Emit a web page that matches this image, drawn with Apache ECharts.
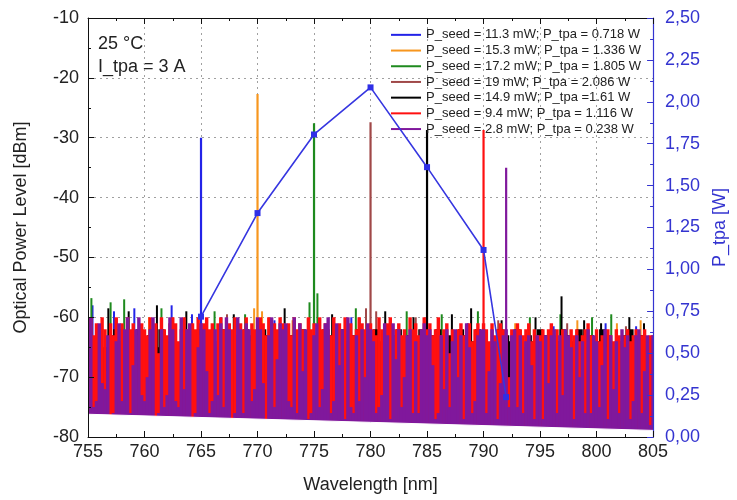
<!DOCTYPE html>
<html><head><meta charset="utf-8">
<script src="https://cdn.jsdelivr.net/npm/echarts@6/dist/echarts.min.js"></script>
<style>html,body{margin:0;padding:0;background:#fff}#c{width:737px;height:500px}</style>
</head><body><div id="c"></div>
<script>
// ---------- data ----------
const seriesNames = [
  'P_seed = 11.3 mW; P_tpa = 0.718 W',
  'P_seed = 15.3 mW; P_tpa = 1.336 W',
  'P_seed = 17.2 mW; P_tpa = 1.805 W',
  'P_seed = 19 mW; P_tpa = 2.086 W',
  'P_seed = 14.9 mW; P_tpa =1.61 W',
  'P_seed = 9.4 mW; P_tpa = 1.116 W',
  'P_seed = 2.8 mW; P_tpa = 0.238 W'
];
const seriesColors = ['#2323E8', '#F7961E', '#1E8A1E', '#A04848', '#000000', '#FF1010', '#80189C'];
const xTicks = [755, 760, 765, 770, 775, 780, 785, 790, 795, 800, 805];
const leftTicks = [-80, -70, -60, -50, -40, -30, -20, -10];
const rightTickLabels = ['0,00','0,25','0,50','0,75','1,00','1,25','1,50','1,75','2,00','2,25','2,50'];
const xGrid = [760, 765, 770, 775, 780, 785, 790, 795, 800];
const yGrid = [-70, -60, -50, -40, -30, -20];

// laser peaks (wavelength nm, peak level dBm)
const peakWl  = [765, 770, 775, 780, 785, 790, 792];
const peakTop = [-30, -22.7, -27.6, -27.4, -28.7, -28.7, -35];

// P_tpa vs wavelength (right axis)
const ptpaWl = [765, 770, 775, 780, 785, 790, 792];
const ptpaW  = [0.718, 1.336, 1.805, 2.086, 1.61, 1.116, 0.238];

// lower edge of the noise floor
const floorWl = [755, 805];
const floorDb = [-76.2, -78.9];

// noise sampling
const noiseStart = 755;
const fineStep = 0.25;
const coarseStep = 0.5;

const purpleNoise = [
 -61,-60,-75,-74,-61,-71,-72,-63,-77,-76,
 -64,-61,-74,-62,-60,-76,-68,-62,-60,-73,
 -74,-70,-62,-60,-77,-76,-62,-75,-73,-60,
 -62,-74,-75,-60,-72,-62,-61,-77,-76,-65,
 -61,-62,-69,-76,-74,-62,-73,-61,-75,-60,
 -62,-77,-76,-60,-62,-76,-61,-62,-74,-72,
 -60,-62,-71,-77,-63,-60,-75,-67,-61,-62,
 -61,-74,-75,-60,-76,-61,-69,-62,-77,-76,
 -63,-61,-75,-72,-61,-60,-76,-74,-61,-68,
 -62,-77,-60,-75,-76,-63,-74,-62,-70,-61,
 -62,-64,-76,-75,-73,-61,-63,-77,-61,-67,
 -62,-75,-70,-63,-62,-76,-64,-76,-62,-61,
 -63,-62,-68,-77,-76,-63,-72,-62,-75,-64,
 -62,-70,-63,-77,-61,-65,-76,-74,-63,-62,
 -62,-76,-69,-62,-64,-77,-71,-63,-62,-75,
 -63,-62,-75,-63,-76,-64,-63,-68,-77,-63,
 -64,-77,-63,-71,-63,-62,-76,-63,-73,-62,
 -63,-65,-77,-63,-70,-64,-76,-62,-76,-63,
 -64,-75,-68,-62,-77,-63,-72,-64,-76,-62,
 -65,-63,-77,-74,-63,-62,-76,-69,-63,-78,
 -63
];
const redNoise = [
 -62,-60,-63,-61,-64,-60,-62,-69,-61,-63,
 -60,-62,-61,-65,-60,-62,-61,-63,-72,-61,
 -62,-63,-60,-62,-61,-66,-60,-62,-63,-61,
 -60,-61,-64,-62,-60,-62,-70,-61,-62,-60,
 -63,-61,-60,-62,-61,-64,-61,-60,-62,-71,
 -61,-62,-60,-63,-61,-62,-60,-64,-61,-62,
 -62,-60,-61,-63,-60,-68,-61,-62,-60,-61,
 -62,-61,-63,-60,-62,-61,-62,-65,-60,-62,
 -61,-63,-60,-62,-61,-62,-63,-60,-70,-61,
 -63,-60,-62,-61,-63,-62,-60,-61,-62,-63,
 -61,-62,-63,-60,-62,-64,-61,-60,-63,-62,
 -61,-63,-62,-72,-60,-62,-61,-63,-62,-60,
 -62,-61,-63,-62,-60,-63,-62,-61,-66,-62,
 -63,-62,-61,-63,-62,-61,-64,-62,-61,-63,
 -61,-62,-64,-61,-63,-62,-61,-62,-63,-70,
 -62,-64,-61,-62,-63,-62,-61,-64,-62,-63,
 -63,-62,-64,-62,-61,-63,-62,-64,-62,-63,
 -64,-62,-63,-62,-64,-63,-62,-61,-63,-64,
 -62,-64,-63,-65,-62,-63,-64,-62,-63,-64,
 -63,-62,-64,-63,-62,-64,-63,-62,-64,-63,
 -63
];
const blackNoise = [
 -63,-64,-62,-65,-63,-62,-64,-65,-63,-62,
 -64,-63,-65,-62,-64,-63,-65,-62,-63,-64,
 -62,-64,-63,-65,-62,-63,-64,-65,-62,-63,
 -64,-62,-63,-65,-64,-62,-63,-64,-62,-65,
 -63,-64,-62,-63,-65,-62,-64,-63,-62,-64,
 -63,-62,-64,-65,-63,-62,-64,-63,-65,-62,
 -64,-63,-62,-64,-63,-65,-62,-63,-64,-62,
 -63,-65,-64,-62,-63,-64,-62,-65,-63,-64,
 -62,-63,-65,-64,-62,-63,-64,-62,-65,-63,
 -64,-62,-63,-65,-64,-63,-62,-64,-63,-65,
 -64
];
const blackSpikes = [[756.8,-58.5],[758.6,-59],[761.1,-58],[763.7,-59],[767.9,-59.5],[772.4,-58.5],[776.6,-59.5],[781.3,-59],[783.8,-60],[787.2,-59.5],[788.9,-58.5],[791.6,-60.5],[794.6,-60],[796.9,-56.5],[798.9,-60.5],[800.4,-61],[802.9,-60],[804.2,-61]];
const blueSpikes = [[755.4,-58],[757.3,-59],[759.1,-58.5],[762.4,-58],[764.2,-59.5],[766.8,-60],[771.5,-60.5],[778.3,-60],[788.6,-61],[796.2,-61.5],[800.8,-61],[803.5,-61.5]];
const orangeSpikes = [[760.4,-60],[769.7,-58.5],[770.4,-59],[773.1,-60.5],[792.8,-61],[798.3,-60.5],[801.8,-61],[803.9,-60.5]];
const greenSpikes = [[755.3,-56.8],[757.0,-57.5],[758.2,-57],[761.5,-58.5],[766.2,-59],[768.9,-59.5],[774.6,-57.5],[775.3,-56],[778.7,-58.5],[783.2,-59],[786.3,-59.5],[789.5,-59],[794.1,-60],[796.8,-59.5],[799.6,-60],[801.3,-59.5]];
const brownSpikes = [[767.3,-59.5],[779.6,-58.5],[780.5,-59],[784.0,-60],[791.3,-60.5],[797.4,-61],[802.6,-61.5]];

// ---------- chart ----------
const FONT = 'Liberation Sans, Arial, sans-serif';
const chart = echarts.init(document.getElementById('c'), null, {renderer: 'canvas'});

function toPoints(arr, step) { return arr.map((v, i) => [noiseStart + i * step, v]); }

// width: number = pixels, or {step} = one sampling step wide
function columns(width) {
  return function (params, api) {
    const x = api.value(0), y = api.value(1);
    const t = api.coord([x, y]);
    const b = api.coord([x, leftTicks[0]]);
    const w = typeof width === 'number' ? width : api.size([width.step, 0])[0] + 0.6;
    return {type: 'rect', shape: {x: t[0] - w / 2, y: t[1], width: w, height: b[1] - t[1]},
            style: {fill: api.visual('color')}};
  };
}

const series = [];
// grid lines (drawn under everything)
series.push({
  type: 'line', data: [[xTicks[0], leftTicks[0]]], symbol: 'none', silent: true,
  lineStyle: {opacity: 0}, z: 0,
  markLine: {
    z: 0, silent: true, symbol: 'none', animation: false, label: {show: false},
    lineStyle: {type: [2, 4], color: '#a0a0a0', width: 1},
    data: xGrid.map(v => ({xAxis: v})).concat(yGrid.map(v => ({yAxis: v})))
  }
});
// laser peaks
for (let i = 0; i < seriesNames.length; i++) {
  series.push({
    name: seriesNames[i], type: 'line', symbol: 'none', z: 1, animation: false,
    itemStyle: {color: seriesColors[i]},
    lineStyle: {color: seriesColors[i], width: 2.2},
    data: [[peakWl[i], leftTicks[0]], [peakWl[i], peakTop[i]]]
  });
}
function colSeries(i, data, width) {
  return {name: seriesNames[i], type: 'custom', renderItem: columns(width), clip: true, z: 2,
    itemStyle: {color: seriesColors[i]}, encode: {x: 0, y: 1}, data: data, animation: false};
}
series.push(colSeries(0, blueSpikes, 2));
series.push(colSeries(1, orangeSpikes, 2));
series.push(colSeries(2, greenSpikes, 2));
series.push(colSeries(3, brownSpikes, 2));
series.push(colSeries(4, toPoints(blackNoise, coarseStep), {step: coarseStep}));
series.push(colSeries(4, blackSpikes, 2));
series.push(colSeries(5, toPoints(redNoise, fineStep), {step: fineStep}));
series.push(colSeries(6, toPoints(purpleNoise, fineStep), {step: fineStep}));
// white wedge below the noise floor
series.push({type: 'line', silent: true, symbol: 'none', z: 3, animation: false,
  data: floorWl.map((w, i) => [w, floorDb[i]]),
  lineStyle: {color: '#ffffff', width: 1},
  areaStyle: {color: '#ffffff', opacity: 1, origin: 'start'}});
// P_tpa line
series.push({type: 'line', yAxisIndex: 1, z: 6, animation: false,
  data: ptpaWl.map((w, i) => [w, ptpaW[i]]),
  symbol: 'rect', symbolSize: 6,
  itemStyle: {color: '#2F2FE6'}, lineStyle: {color: '#3636E0', width: 1.6}});

const axisTxt = {fontFamily: FONT, fontSize: 18, color: '#222'};
const option = {
  animation: false,
  grid: {left: 88, right: 83, top: 18, bottom: 63},
  legend: {
    data: seriesNames, orient: 'vertical', left: 386, top: 22,
    icon: 'rect', itemWidth: 30, itemHeight: 2, itemGap: 0,
    textStyle: {fontFamily: FONT, fontSize: 13, color: '#222', lineHeight: 15.7}
  },
  graphic: [
    {type: 'text', left: 98, top: 35, style: {text: '25 °C', font: '18px ' + FONT, fill: '#222'}},
    {type: 'text', left: 98, top: 58, style: {text: 'I_tpa = 3 A', font: '18px ' + FONT, fill: '#222'}}
  ],
  xAxis: [{
    type: 'value', min: xTicks[0], max: xTicks[xTicks.length - 1], interval: 5, z: 10,
    name: 'Wavelength [nm]', nameLocation: 'middle', nameGap: 39, nameTextStyle: axisTxt,
    axisLine: {lineStyle: {color: '#111', width: 1}},
    axisTick: {inside: true, length: 6, lineStyle: {color: '#111'}},
    minorTick: {show: true, splitNumber: 2, length: 3, lineStyle: {color: '#111'}},
    axisLabel: Object.assign({margin: 6}, axisTxt),
    splitLine: {show: false}
  }, {
    type: 'value', position: 'top', min: xTicks[0], max: xTicks[xTicks.length - 1], interval: 5, z: 10,
    axisLine: {lineStyle: {color: '#111', width: 1}},
    axisTick: {inside: true, length: 6, lineStyle: {color: '#111'}},
    minorTick: {show: true, splitNumber: 2, length: 3, lineStyle: {color: '#111'}},
    axisLabel: {show: false}, splitLine: {show: false}
  }],
  yAxis: [{
    type: 'value', min: leftTicks[0], max: leftTicks[leftTicks.length - 1], interval: 10, z: 10,
    name: 'Optical Power Level [dBm]', nameLocation: 'middle', nameGap: 58, nameTextStyle: axisTxt,
    axisLine: {show: true, lineStyle: {color: '#111', width: 1}},
    axisTick: {inside: true, length: 6, lineStyle: {color: '#111'}},
    minorTick: {show: true, splitNumber: 2, length: 3, lineStyle: {color: '#111'}},
    axisLabel: Object.assign({margin: 9}, axisTxt),
    splitLine: {show: false}
  }, {
    type: 'value', position: 'right', min: 0, max: 2.5, interval: 0.25, z: 10,
    name: 'P_tpa [W]', nameLocation: 'middle', nameGap: 56, nameRotate: 90,
    nameTextStyle: {fontFamily: FONT, fontSize: 18, color: '#3434D0'},
    axisLine: {show: true, lineStyle: {color: '#3434D0', width: 1.2}},
    axisTick: {inside: true, length: 6, lineStyle: {color: '#3434D0'}},
    minorTick: {show: true, splitNumber: 2, length: 3, lineStyle: {color: '#3434D0'}},
    axisLabel: {margin: 12, fontFamily: FONT, fontSize: 18, color: '#3434D0',
      formatter: v => rightTickLabels[Math.round(v / 0.25)]},
    splitLine: {show: false}
  }],
  series: series
};
chart.setOption(option);
</script>
</body></html>
